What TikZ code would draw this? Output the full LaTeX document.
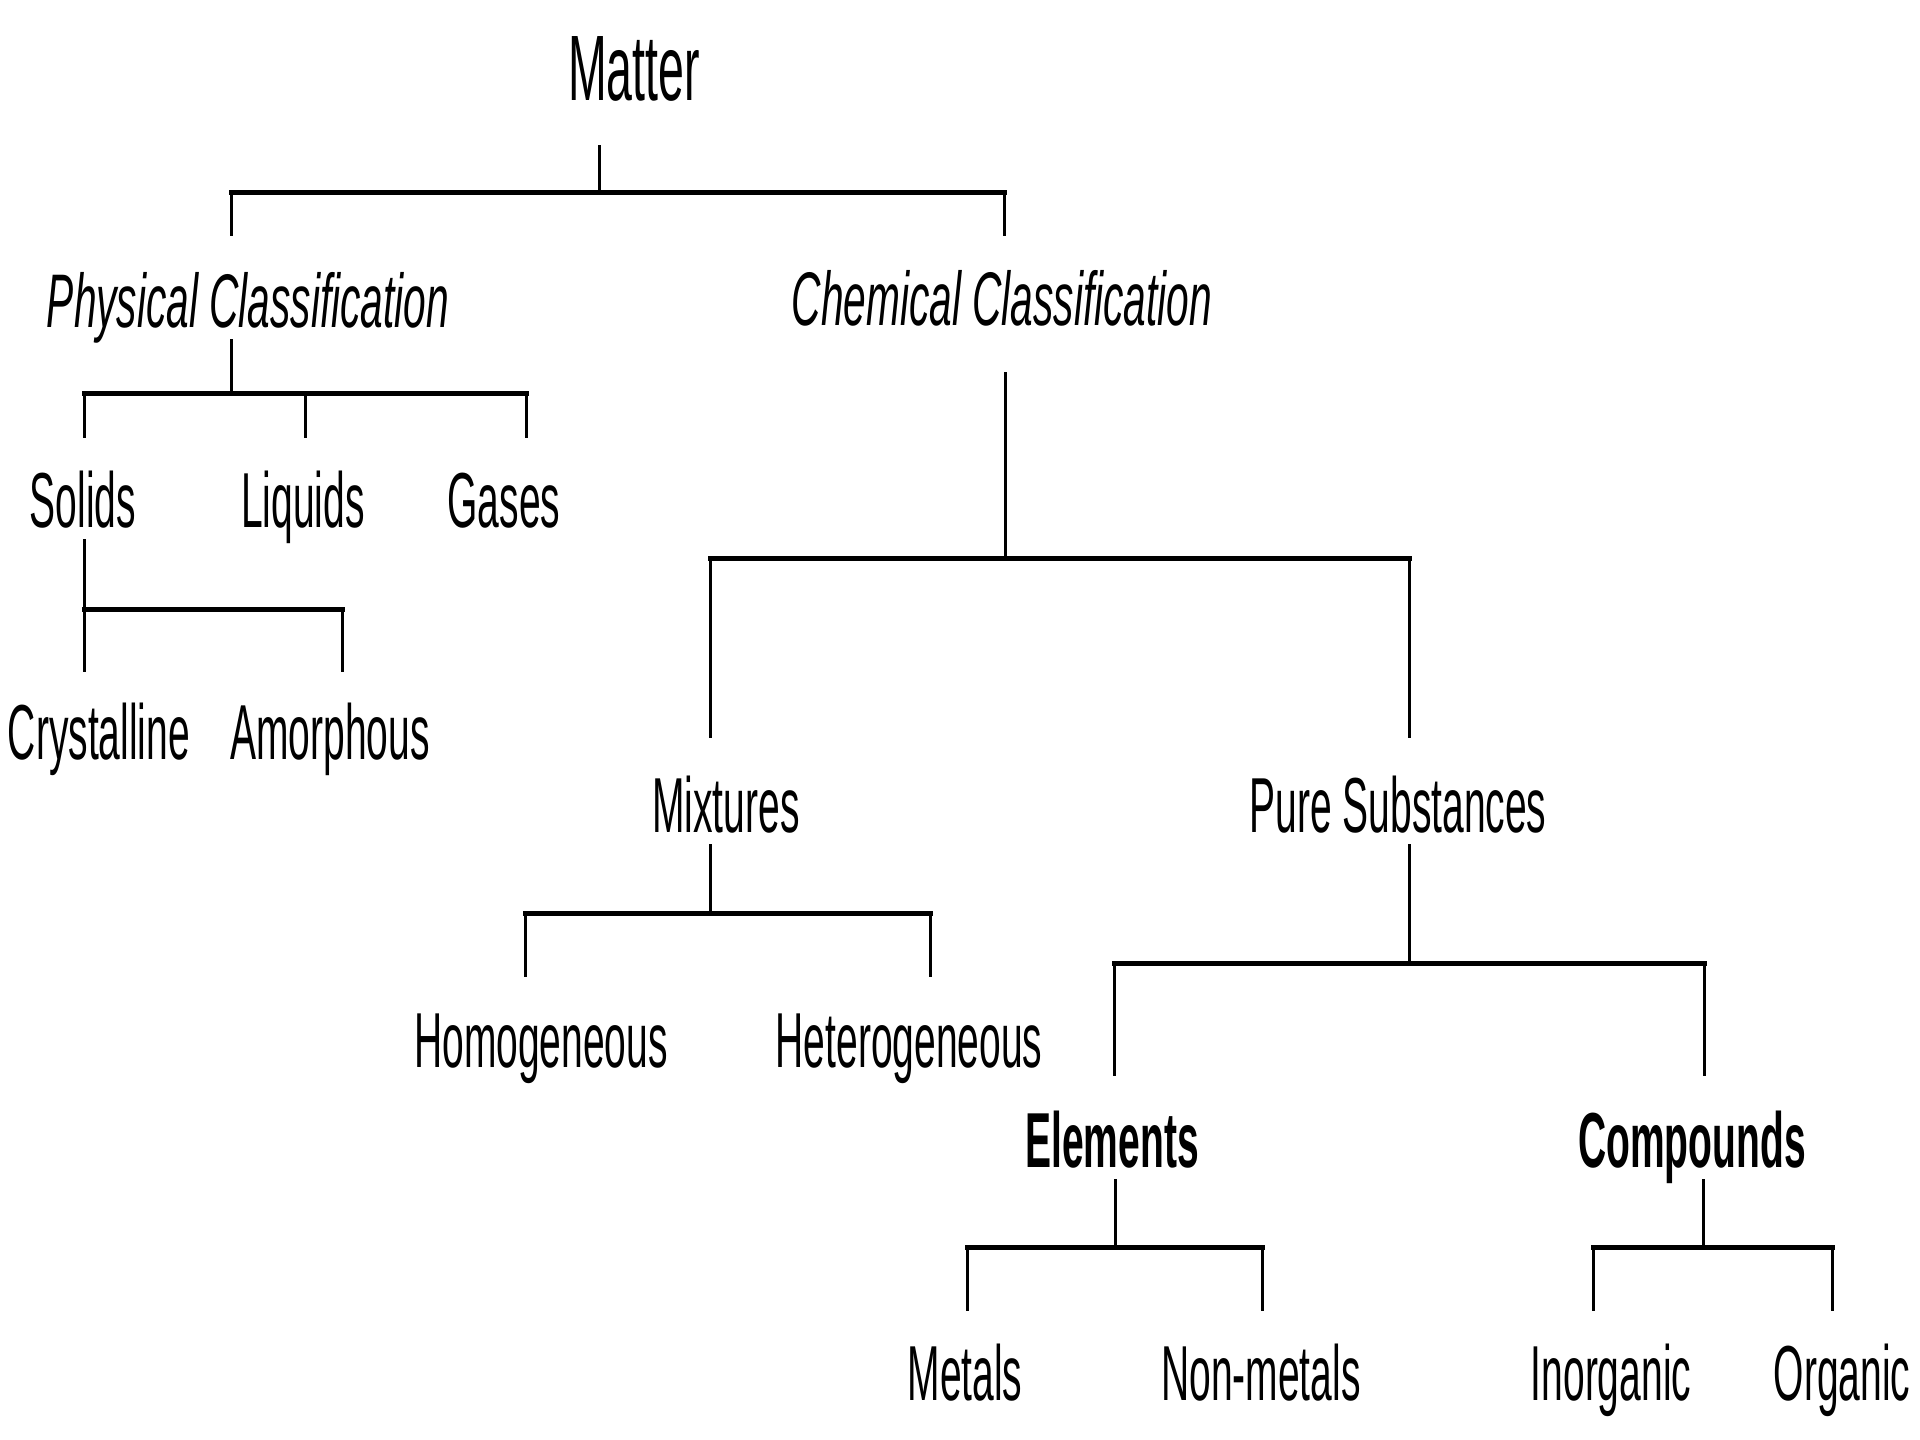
\documentclass[tikz,border=0pt]{standalone}
\usepackage{fontspec}
\setmainfont[FakeStretch=0.5,ItalicFeatures={FakeStretch=0.535}]{Liberation Sans}
\begin{document}
\begin{tikzpicture}[x=1pt,y=-1pt,
  lbl/.style={anchor=base,inner sep=0pt,font=\fontsize{78}{90}\selectfont},
  big/.style={anchor=base,inner sep=0pt,font=\fontsize{93}{100}\selectfont},
  ital/.style={lbl,font=\fontsize{76}{90}\selectfont\itshape},
  bld/.style={lbl,font=\fontsize{78}{90}\selectfont\bfseries},
  vl/.style={line width=3pt,line cap=butt},
  hl/.style={line width=5pt,line cap=rect}]
\useasboundingbox[fill=white] (0,0) rectangle (1920,1440);

% labels
\node[big]  (matter) at (634,100) {Matter};
\node[ital] (phys)   at (248,327) {Physical Classification};
\node[ital] (chem)   at (1002,325) {Chemical Classification};
\node[lbl]  (solids) at (83,527) {Solids};
\node[lbl]  (liquids) at (303,527) {Liquids};
\node[lbl]  (gases)  at (504,527) {Gases};
\node[lbl]  (cryst)  at (99,759) {Crystalline};
\node[lbl]  (amor)   at (330,759) {Amorphous};
\node[lbl]  (mix)    at (726,832) {Mixtures};
\node[lbl]  (pure)   at (1398,832) {Pure Substances};
\node[lbl]  (homo)   at (541,1067) {Homogeneous};
\node[lbl]  (hetero) at (909,1067) {Heterogeneous};
\node[bld]  (elem)   at (1112,1167) {Elements};
\node[bld]  (comp)   at (1692,1167) {Compounds};
\node[lbl]  (metals) at (965,1400) {Metals};
\node[lbl]  (nonmet) at (1261,1400) {Non-metals};
\node[lbl]  (inorg)  at (1611,1400) {Inorganic};
\node[lbl]  (org)    at (1842,1400) {Organic};

% fork 0: Matter
\coordinate (a0) at (599,145); \coordinate (j0) at (599,192);
\coordinate (l0) at (231,192); \coordinate (r0) at (1004,192);
\coordinate (l0e) at (231,236); \coordinate (r0e) at (1004,236);
\draw[vl] (a0) -- (j0);
\draw[hl] (l0) -- (r0);
\draw[vl] (l0) -- (l0e); \draw[vl] (r0) -- (r0e);

% fork 1: Physical
\coordinate (a1) at (231,339); \coordinate (j1) at (231,393);
\coordinate (l1) at (84,393); \coordinate (m1) at (305,393); \coordinate (r1) at (526,393);
\coordinate (l1e) at (84,438); \coordinate (m1e) at (305,438); \coordinate (r1e) at (526,438);
\draw[vl] (a1) -- (j1);
\draw[hl] (l1) -- (r1);
\draw[vl] (l1) -- (l1e); \draw[vl] (m1) -- (m1e); \draw[vl] (r1) -- (r1e);

% fork 2: Solids
\coordinate (a2) at (84,539); \coordinate (l2) at (84,609); \coordinate (r2) at (342,609);
\coordinate (l2e) at (84,672); \coordinate (r2e) at (342,672);
\draw[vl] (a2) -- (l2);
\draw[hl] (l2) -- (r2);
\draw[vl] (l2) -- (l2e); \draw[vl] (r2) -- (r2e);

% fork 3: Chemical
\coordinate (a3) at (1005,372); \coordinate (j3) at (1005,558);
\coordinate (l3) at (710,558); \coordinate (r3) at (1409,558);
\coordinate (l3e) at (710,738); \coordinate (r3e) at (1409,738);
\draw[vl] (a3) -- (j3);
\draw[hl] (l3) -- (r3);
\draw[vl] (l3) -- (l3e); \draw[vl] (r3) -- (r3e);

% fork 4: Mixtures
\coordinate (a4) at (710,844); \coordinate (j4) at (710,913);
\coordinate (l4) at (525,913); \coordinate (r4) at (930,913);
\coordinate (l4e) at (525,977); \coordinate (r4e) at (930,977);
\draw[vl] (a4) -- (j4);
\draw[hl] (l4) -- (r4);
\draw[vl] (l4) -- (l4e); \draw[vl] (r4) -- (r4e);

% fork 5: Pure Substances
\coordinate (a5) at (1409,844); \coordinate (j5) at (1409,963);
\coordinate (l5) at (1114,963); \coordinate (r5) at (1704,963);
\coordinate (l5e) at (1114,1076); \coordinate (r5e) at (1704,1076);
\draw[vl] (a5) -- (j5);
\draw[hl] (l5) -- (r5);
\draw[vl] (l5) -- (l5e); \draw[vl] (r5) -- (r5e);

% fork 6: Elements
\coordinate (a6) at (1115,1179); \coordinate (j6) at (1115,1247);
\coordinate (l6) at (967,1247); \coordinate (r6) at (1262,1247);
\coordinate (l6e) at (967,1311); \coordinate (r6e) at (1262,1311);
\draw[vl] (a6) -- (j6);
\draw[hl] (l6) -- (r6);
\draw[vl] (l6) -- (l6e); \draw[vl] (r6) -- (r6e);

% fork 7: Compounds
\coordinate (a7) at (1703,1179); \coordinate (j7) at (1703,1247);
\coordinate (l7) at (1593,1247); \coordinate (r7) at (1832,1247);
\coordinate (l7e) at (1593,1311); \coordinate (r7e) at (1832,1311);
\draw[vl] (a7) -- (j7);
\draw[hl] (l7) -- (r7);
\draw[vl] (l7) -- (l7e); \draw[vl] (r7) -- (r7e);
\end{tikzpicture}
\end{document}
